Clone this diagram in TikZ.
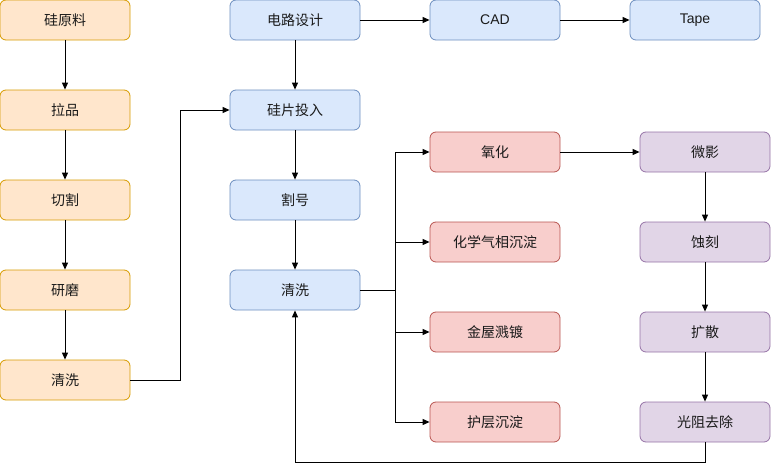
\documentclass[tikz,border=0pt]{standalone}
\usepackage{fontspec}
\setmainfont{Liberation Sans}
\newfontfamily\cjk{Noto Sans CJK SC}
\usetikzlibrary{arrows.meta}
\definecolor{ofill}{HTML}{FFE6CC}\definecolor{odraw}{HTML}{D79B00}
\definecolor{bfill}{HTML}{DAE8FC}\definecolor{bdraw}{HTML}{6C8EBF}
\definecolor{rfill}{HTML}{F8CECC}\definecolor{rdraw}{HTML}{B85450}
\definecolor{pfill}{HTML}{E1D5E7}\definecolor{pdraw}{HTML}{9673A6}
\definecolor{txt}{HTML}{1A1A1A}
\tikzset{
  box/.style={rectangle, rounded corners=6pt, minimum width=130pt, minimum height=40pt,
    inner sep=0pt, line width=0.8pt, text=txt, font=\fontsize{14pt}{16pt}\selectfont\cjk},
  obox/.style={box, fill=ofill, draw=odraw},
  bbox/.style={box, fill=bfill, draw=bdraw},
  rbox/.style={box, fill=rfill, draw=rdraw},
  pbox/.style={box, fill=pfill, draw=pdraw},
  conn/.style={line width=1pt, draw=black},
  arr/.style={conn, -{Triangle[length=7pt,width=6pt]}}
}
\begin{document}
\begin{tikzpicture}[x=1pt,y=-1pt]
\useasboundingbox (0,0) rectangle (771,471);
% column 1
\node[obox] (a1) at (65,20) {硅原料};
\node[obox] (a2) at (65,110) {拉品};
\node[obox] (a3) at (65,200) {切割};
\node[obox] (a4) at (65,290) {研磨};
\node[obox] (a5) at (65,380) {清洗};
% column 2
\node[bbox] (b1) at (295,20) {电路设计};
\node[bbox] (b2) at (295,110) {硅片投入};
\node[bbox] (b3) at (295,200) {割号};
\node[bbox] (b4) at (295,290) {清洗};
\node[bbox, font=\fontsize{14pt}{16pt}\selectfont] (cad) at (495,20) {CAD};
\node[bbox, font=\fontsize{14pt}{16pt}\selectfont] (tape) at (695,20) {Tape};
% red
\node[rbox] (r1) at (495,152) {氧化};
\node[rbox] (r2) at (495,242) {化学气相沉淀};
\node[rbox] (r3) at (495,332) {金屋溅镀};
\node[rbox] (r4) at (495,422) {护层沉淀};
% purple
\node[pbox] (p1) at (705,152) {微影};
\node[pbox] (p2) at (705,242) {蚀刻};
\node[pbox] (p3) at (705,332) {扩散};
\node[pbox] (p4) at (705,422) {光阻去除};
% helper coordinates
\coordinate (j1) at (180,110);
\coordinate (br) at (395,290);
\coordinate (ret) at (705,462);
% connectors
\draw[arr] (a1) -- (a2);
\draw[arr] (a2) -- (a3);
\draw[arr] (a3) -- (a4);
\draw[arr] (a4) -- (a5);
\draw[arr] (a5.east) -| (j1) -- (b2.west);
\draw[arr] (b1) -- (b2);
\draw[arr] (b2) -- (b3);
\draw[arr] (b3) -- (b4);
\draw[arr] (b1) -- (cad);
\draw[arr] (cad) -- (tape);
\draw[conn] (b4.east) -- (br);
\draw[arr] (br) |- (r1.west);
\draw[arr] (br) |- (r2.west);
\draw[arr] (br) |- (r3.west);
\draw[arr] (br) |- (r4.west);
\draw[arr] (r1) -- (p1);
\draw[arr] (p1) -- (p2);
\draw[arr] (p2) -- (p3);
\draw[arr] (p3) -- (p4);
\draw[arr] (p4.south) -- (ret) -| (b4.south);
\end{tikzpicture}
\end{document}
